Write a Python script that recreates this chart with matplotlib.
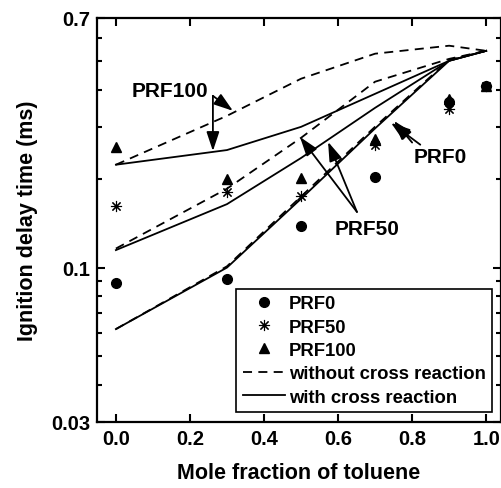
import matplotlib
matplotlib.use("Agg")
import matplotlib.pyplot as plt
from matplotlib.lines import Line2D
from matplotlib.ticker import FixedLocator, NullFormatter

plt.rcParams['font.family'] = ['Liberation Sans', 'DejaVu Sans']
plt.rcParams['font.weight'] = 'bold'

# experimental data
x_exp = [0.0, 0.3, 0.5, 0.7, 0.9, 1.0]
prf0_exp = [0.0886, 0.0914, 0.138, 0.203, 0.364, 0.413]
prf50_exp = [0.162, 0.180, 0.175, 0.260, 0.345, 0.413]
prf100_exp = [0.256, 0.200, 0.201, 0.273, 0.373, 0.413]

# model predictions
x_model = [0.0, 0.3, 0.5, 0.7, 0.9, 1.0]
prf0_without = [0.0619, 0.101, 0.174, 0.300, 0.505, 0.542]
prf0_with = [0.0619, 0.100, 0.171, 0.296, 0.5015, 0.542]
prf50_without = [0.116, 0.185, 0.275, 0.426, 0.509, 0.542]
prf50_with = [0.1146, 0.164, 0.235, 0.3475, 0.5015, 0.542]
prf100_without = [0.223, 0.3265, 0.436, 0.530, 0.564, 0.542]
prf100_with = [0.223, 0.250, 0.2996, 0.3876, 0.5015, 0.542]

x_ticks = [0.0, 0.2, 0.4, 0.6, 0.8, 1.0]
x_tick_labels = ['0.0', '0.2', '0.4', '0.6', '0.8', '1.0']
y_major = [0.03, 0.1, 0.7]
y_major_labels = ['0.03', '0.1', '0.7']
y_minor = [0.04, 0.05, 0.06, 0.07, 0.08, 0.09, 0.2, 0.3, 0.4, 0.5, 0.6]

fig = plt.figure(figsize=(5.02, 4.89), dpi=100)
ax = fig.add_axes([97/502, 66/489, 404/502, 404/489])

dash = (0, (5, 3.5))
lw = 1.3
for yv in (prf0_without, prf50_without, prf100_without):
    ax.plot(x_model, yv, color='black', lw=lw, linestyle=dash)
for yv in (prf0_with, prf50_with, prf100_with):
    ax.plot(x_model, yv, color='black', lw=lw, linestyle='-')

ms = 7
ax.plot(x_exp, prf0_exp, 'o', color='black', ms=ms, ls='none')
ax.plot(x_exp, prf50_exp, marker=(8, 2, 0), color='black', ms=ms + 1, mew=0.8, ls='none')
ax.plot(x_exp, prf100_exp, '^', color='black', ms=ms, ls='none')

ax.set_yscale('log')
ax.set_xlim(-0.051, 1.04)
ax.set_ylim(0.03, 0.7)
ax.xaxis.set_major_locator(FixedLocator(x_ticks))
ax.set_xticklabels(x_tick_labels)
ax.xaxis.set_minor_locator(FixedLocator([]))
ax.yaxis.set_major_locator(FixedLocator(y_major))
ax.set_yticklabels(y_major_labels)
ax.yaxis.set_minor_locator(FixedLocator(y_minor))
ax.yaxis.set_minor_formatter(NullFormatter())

ax.tick_params(which='both', direction='in', top=True, right=True, width=1.5,
               labelsize=14.5, pad=5)
ax.tick_params(which='major', length=6)
ax.tick_params(which='minor', length=3.5)
for s in ax.spines.values():
    s.set_linewidth(1.6)

ax.set_xlabel('Mole fraction of toluene', fontsize=15.5, fontweight='bold', labelpad=10)
ax.set_ylabel('Ignition delay time (ms)', fontsize=15.5, fontweight='bold', labelpad=9)

aprops = dict(arrowstyle='-|>,head_length=0.9,head_width=0.3', color='black',
              lw=1.3, mutation_scale=13, shrinkA=0, shrinkB=0)
ax.text(0.146, 0.3966, 'PRF100', fontsize=15, fontweight='bold', ha='center', va='center')
ax.annotate('', xy=(0.316, 0.3395), xytext=(0.262, 0.3815), arrowprops=aprops)
ax.annotate('', xy=(0.262, 0.248), xytext=(0.262, 0.3815), arrowprops=aprops)

ax.text(0.678, 0.1351, 'PRF50', fontsize=15, fontweight='bold', ha='center', va='center')
ax.annotate('', xy=(0.497, 0.277), xytext=(0.651, 0.1543), arrowprops=aprops)
ax.annotate('', xy=(0.573, 0.2665), xytext=(0.651, 0.1543), arrowprops=aprops)

ax.text(0.876, 0.237, 'PRF0', fontsize=15, fontweight='bold', ha='center', va='center')
ax.annotate('', xy=(0.743, 0.309), xytext=(0.822, 0.2607), arrowprops=aprops)
ax.annotate('', xy=(0.751, 0.3137), xytext=(0.80, 0.2651), arrowprops=aprops)

handles = [
    Line2D([], [], marker='o', color='black', ls='none', ms=ms),
    Line2D([], [], marker=(8, 2, 0), color='black', ls='none', ms=ms + 1, mew=0.8),
    Line2D([], [], marker='^', color='black', ls='none', ms=ms),
    Line2D([], [], color='black', lw=lw, linestyle=dash),
    Line2D([], [], color='black', lw=lw, linestyle='-'),
]
labels = ['PRF0', 'PRF50', 'PRF100', 'without cross reaction', 'with cross reaction']
leg = ax.legend(handles, labels, loc='lower right', bbox_to_anchor=(0.978, 0.0248),
                borderaxespad=0, prop={'weight': 'bold', 'size': 13.3},
                labelspacing=0.34, handlelength=2.3, handletextpad=0.2,
                borderpad=0.35, fancybox=False, framealpha=1, edgecolor='black')
leg.get_frame().set_linewidth(1.2)

fig.savefig('out.png', dpi=100)
